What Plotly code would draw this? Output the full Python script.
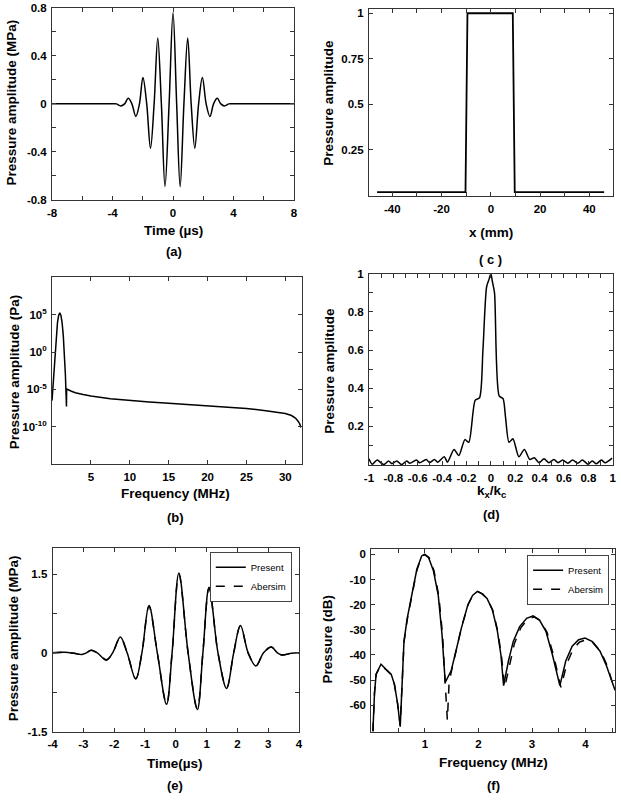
import plotly.graph_objects as go

W, H = 621, 800

# ---------------- data ----------------
# (a) transmitted pulse
t_a = [-8, -6, -4, -3.75, -3.46, -3.2, -2.96, -2.72, -2.46, -2.22, -1.99, -1.74, -1.49, -1.25,
       -1.01, -0.77, -0.53, -0.26, 0.0, 0.24, 0.47, 0.72, 0.97, 1.2, 1.44, 1.69, 1.94, 2.19,
       2.44, 2.68, 2.92, 3.16, 3.4, 3.7, 4, 6, 8]
p_a = [0, 0, 0, 0.0, -0.017, 0, 0.047, 0, -0.105, 0, 0.22, 0, -0.37, 0,
       0.55, 0, -0.69, 0, 0.76, 0, -0.69, 0, 0.55, 0, -0.37, 0, 0.22, 0,
       -0.105, 0, 0.047, 0, -0.017, 0, 0, 0, 0]

# (c) aperture
x_c = [-46.2, -10.3, -9.5, 8.9, 9.7, 46.0]
p_c = [0.015, 0.015, 1.0, 1.0, 0.015, 0.015]

# (b) spectrum, log10 of amplitude (Pa)
f_b = [0.0, 0.1, 0.25, 0.4, 0.55, 0.7, 0.85, 1.0, 1.15, 1.3, 1.45, 1.6, 1.72, 1.82, 1.86, 1.88,
       2.5, 3.0, 4.0, 5, 7.5, 10, 12.5, 15, 17.5, 20, 22.5, 25, 27.5, 29, 30, 30.8, 31.3, 31.6,
       31.85, 32]
log_b = [-6.5, -4.8, -2.3, 0.0, 2.2, 3.9, 4.9, 5.25, 4.9, 3.9, 2.2, -0.2, -3.0, -6.0, -7.3, -4.95,
         -5.25, -5.45, -5.7, -5.9, -6.25, -6.5, -6.7, -6.87, -7.05, -7.2, -7.4, -7.57, -7.85, -8.05,
         -8.23, -8.5, -8.85, -9.2, -9.6, -10.1]

# (d) angular spectrum
k_d = [-1.0, -0.973, -0.933, -0.879, -0.839, -0.812, -0.772, -0.732, -0.691, -0.664, -0.611,
       -0.584, -0.530, -0.503, -0.463, -0.436, -0.382, -0.356, -0.302, -0.262, -0.213, -0.181,
       -0.128, -0.093, -0.065, -0.035, -0.015, 0.0, 0.012, 0.03, 0.068, 0.1, 0.12, 0.149, 0.181,
       0.23, 0.275, 0.32, 0.356, 0.396, 0.436, 0.476, 0.517, 0.552, 0.589, 0.632, 0.67, 0.713,
       0.75, 0.798, 0.831, 0.866, 0.906, 0.938, 0.995]
p_d = [0.031, 0.002, 0.024, 0.0, 0.019, 0.005, 0.019, 0.0, 0.019, 0.007, 0.024,
       0.01, 0.027, 0.01, 0.027, 0.013, 0.041, 0.013, 0.079, 0.048, 0.131, 0.117,
       0.338, 0.35, 0.6, 0.93, 0.97, 1.0, 0.96, 0.9, 0.36, 0.345, 0.25, 0.117, 0.135,
       0.041, 0.079, 0.027, 0.036, 0.01, 0.031, 0.01, 0.027, 0.01, 0.024, 0.007, 0.024, 0.007,
       0.024, 0.002, 0.019, 0.005, 0.024, 0.01, 0.034]

# (e) received pulse (MPa)
t_e = [-4, -3.6, -3.3, -3.05, -2.9, -2.75, -2.55, -2.25, -2.05, -1.8, -1.58, -1.3, -1.1, -0.87,
       -0.6, -0.3, -0.12, 0.1, 0.4, 0.7, 0.88, 1.08, 1.37, 1.65, 1.88, 2.1, 2.35, 2.6, 2.85,
       3.1, 3.3, 3.45, 3.75, 4]
p_e_present = [0.0, 0.01, -0.01, -0.03, 0.0, 0.05, 0.0, -0.14, 0.0, 0.3, 0.0, -0.5, 0.0, 0.9,
               0.0, -0.98, 0.0, 1.52, 0.0, -1.08, 0.0, 1.25, 0.0, -0.68, 0.0, 0.52, 0.0, -0.25,
               0.0, 0.11, 0.0, -0.04, -0.01, 0.0]
p_e_abersim = [0.0, 0.01, -0.01, -0.03, 0.0, 0.05, 0.0, -0.13, 0.0, 0.29, 0.0, -0.49, 0.0, 0.88,
               0.0, -0.97, 0.0, 1.49, 0.0, -1.06, 0.0, 1.23, 0.0, -0.67, 0.0, 0.51, 0.0, -0.25,
               0.0, 0.11, 0.0, -0.04, -0.01, 0.0]

# (f) spectra (dB)
f_present = [0.03, 0.06, 0.09, 0.18, 0.27, 0.37, 0.43, 0.49, 0.54, 0.58, 0.61, 0.67, 0.76, 0.85,
             0.94, 0.99, 1.07, 1.16, 1.25, 1.32, 1.38, 1.43, 1.49, 1.58, 1.68, 1.8, 1.89, 1.98,
             2.07, 2.16, 2.26, 2.35, 2.42, 2.47, 2.56, 2.65, 2.77, 2.9, 3.02, 3.14, 3.26, 3.38,
             3.52, 3.63, 3.75, 3.87, 3.99, 4.12, 4.27, 4.39, 4.51, 4.55]
db_present = [-70.4, -55, -47.6, -43.7, -45.6, -47.6, -51.5, -59.3, -68.5, -50, -34.6, -25.4,
              -16.3, -5.9, -0.6, 0, -1.3, -6.5, -16.3, -31.9, -50.9, -48.9, -46.3, -38.5, -29.4,
              -20.2, -16.3, -14.7, -15.7, -17.5, -22, -30, -40, -52.2, -42.4, -34.6, -28.7, -25.4,
              -24.4, -26.1, -30.6, -39.8, -52.2, -42.4, -36.5, -33.9, -33.3, -34.6, -38.5, -44.3,
              -52, -54]
f_abersim = [0.03, 0.06, 0.09, 0.18, 0.27, 0.37, 0.43, 0.49, 0.54, 0.58, 0.61, 0.67, 0.76, 0.85,
             0.94, 1.0, 1.08, 1.17, 1.26, 1.33, 1.37, 1.42, 1.45, 1.49, 1.58, 1.69, 1.81, 1.9,
             1.99, 2.08, 2.17, 2.27, 2.36, 2.43, 2.49, 2.58, 2.67, 2.79, 2.92, 3.04, 3.16, 3.28,
             3.4, 3.54, 3.65, 3.77, 3.89, 4.01, 4.14, 4.29, 4.41, 4.52, 4.55]
db_abersim = [-70.4, -55, -47.6, -44, -45.8, -47.8, -51.5, -59.3, -68, -50, -35, -26, -16.8,
              -6.3, -0.8, 0, -1.3, -6.5, -16.5, -32, -48, -65.9, -52, -47, -38.5, -28.5, -19.8,
              -16, -14.8, -15.8, -17.8, -22.4, -30.5, -40.5, -52.9, -43.5, -35.5, -29.2, -25.8,
              -24.8, -26.4, -31, -40, -52.9, -43.5, -37.5, -34.8, -34, -35, -38.8, -44.5, -52.5,
              -54]

# tick labels
a_xt = [-8, -4, 0, 4, 8]; a_xl = ["-8", "-4", "0", "4", "8"]
a_yt = [-0.8, -0.4, 0, 0.4, 0.8]; a_yl = ["-0.8", "-0.4", "0", "0.4", "0.8"]
c_xt = [-40, -20, 0, 20, 40]; c_xl = ["-40", "-20", "0", "20", "40"]
c_yt = [0.25, 0.5, 0.75, 1]; c_yl = ["0.25", "0.5", "0.75", "1"]
b_xt = [5, 10, 15, 20, 25, 30]; b_xl = ["5", "10", "15", "20", "25", "30"]
b_yt = [1e-10, 1e-5, 1, 1e5]; b_yl = ["10<sup>-10</sup>", "10<sup>-5</sup>", "10<sup>0</sup>", "10<sup>5</sup>"]
d_xt = [-1, -0.8, -0.6, -0.4, -0.2, 0, 0.2, 0.4, 0.6, 0.8, 1]
d_xl = ["-1", "-0.8", "-0.6", "-0.4", "-0.2", "0", "0.2", "0.4", "0.6", "0.8", "1"]
d_yt = [0.2, 0.4, 0.6, 0.8, 1]; d_yl = ["0.2", "0.4", "0.6", "0.8", "1"]
e_xt = [-4, -3, -2, -1, 0, 1, 2, 3, 4]; e_xl = ["-4", "-3", "-2", "-1", "0", "1", "2", "3", "4"]
e_yt = [-1.5, 0, 1.5]; e_yl = ["-1.5", "0", "1.5"]
f_xt = [1, 2, 3, 4]; f_xl = ["1", "2", "3", "4"]
f_yt = [0, -10, -20, -30, -40, -50, -60]; f_yl = ["0", "-10", "-20", "-30", "-40", "-50", "-60"]

# ---------------- figure ----------------
FONT = "Liberation Sans"
TICKF = dict(family=FONT, size=11.5, color="black", weight="bold")
LINE = dict(color="black", width=1.5)
FRAME = "#333"


def dom_x(x0, x1):
    return [x0 / W, x1 / W]


def dom_y(y0, y1):  # pixel top, bottom
    return [1 - y1 / H, 1 - y0 / H]


fig = go.Figure()
fig.add_trace(go.Scatter(x=t_a, y=p_a, mode="lines", line=dict(shape="spline", smoothing=1, **LINE),
                         xaxis="x", yaxis="y", showlegend=False))
fig.add_trace(go.Scatter(x=x_c, y=p_c, mode="lines", line=dict(color="black", width=1.8),
                         xaxis="x2", yaxis="y2", showlegend=False))
fig.add_trace(go.Scatter(x=f_b, y=[10 ** v for v in log_b], mode="lines", line=LINE,
                         xaxis="x3", yaxis="y3", showlegend=False))
fig.add_trace(go.Scatter(x=k_d, y=p_d, mode="lines", line=dict(shape="spline", smoothing=0.7, **LINE),
                         xaxis="x4", yaxis="y4", showlegend=False))
fig.add_trace(go.Scatter(x=t_e, y=p_e_present, mode="lines", name="Present",
                         line=dict(shape="spline", smoothing=1, **LINE), xaxis="x5", yaxis="y5",
                         legend="legend"))
fig.add_trace(go.Scatter(x=t_e, y=p_e_abersim, mode="lines", name="Abersim",
                         line=dict(shape="spline", smoothing=1, dash="dash", color="black", width=1.5),
                         xaxis="x5", yaxis="y5", legend="legend"))
fig.add_trace(go.Scatter(x=f_present, y=db_present, mode="lines", name="Present", line=LINE,
                         xaxis="x6", yaxis="y6", legend="legend2"))
fig.add_trace(go.Scatter(x=f_abersim, y=db_abersim, mode="lines", name="Abersim",
                         line=dict(dash="dash", color="black", width=1.5),
                         xaxis="x6", yaxis="y6", legend="legend2"))


def ax(domain, rng, tv, tt, anchor, minor=None, typ="linear"):
    d = dict(domain=domain, range=rng, tickvals=tv, ticktext=tt, anchor=anchor, type=typ,
             ticks="inside", ticklen=4, tickcolor=FRAME, tickwidth=1, showline=True,
             linecolor=FRAME, linewidth=1, mirror="ticks", showgrid=False, zeroline=False,
             tickfont=TICKF, ticklabelstandoff=2)
    if minor is not None:
        d["minor"] = dict(dtick=minor, ticks="inside", ticklen=4, tickcolor=FRAME, showgrid=False)
    return d


LEGF = dict(family=FONT, size=9.5, color="black")
fig.update_layout(
    width=W, height=H, margin=dict(l=0, r=0, t=0, b=0),
    paper_bgcolor="white", plot_bgcolor="white",
    xaxis=ax(dom_x(47.7, 293.3), [-8, 8], a_xt, a_xl, "y", 2),
    yaxis=ax(dom_y(2, 196.7), [-0.8, 0.8], a_yt, a_yl, "x", 0.2),
    xaxis2=ax(dom_x(369.3, 616.7), [-49.5, 49.5], c_xt, c_xl, "y2", 10),
    yaxis2=ax(dom_y(3.3, 193.3), [-0.008, 1.022], c_yt, c_yl, "x2"),
    xaxis3=ax(dom_x(47.7, 301), [0, 32.1], b_xt, b_xl, "y3"),
    yaxis3=ax(dom_y(275, 465), [-15, 10.07], b_yt, b_yl, "x3", typ="log"),
    xaxis4=ax(dom_x(369.3, 616.7), [-1, 1], d_xt, d_xl, "y4", 0.1),
    yaxis4=ax(dom_y(271.7, 466), [-0.002, 1.0], d_yt, d_yl, "x4", 0.1),
    xaxis5=ax(dom_x(48.3, 298.3), [-4, 4], e_xt, e_xl, "y5"),
    yaxis5=ax(dom_y(550, 736.7), [-1.5, 2.0], e_yt, e_yl, "x5", 0.75),
    xaxis6=ax(dom_x(371.7, 619), [0, 4.55], f_xt, f_xl, "y6", 0.5),
    yaxis6=ax(dom_y(551.7, 736.7), [-70.5, 2], f_yt, f_yl, "x6"),
    legend=dict(x=291 / W, y=1 - 554 / H, xanchor="right", yanchor="top", bgcolor="white",
                bordercolor="#444", borderwidth=1, font=LEGF, itemwidth=30, tracegroupgap=0),
    legend2=dict(x=613 / W, y=1 - 557 / H, xanchor="right", yanchor="top", bgcolor="white",
                 bordercolor="#444", borderwidth=1, font=LEGF, itemwidth=30, tracegroupgap=0),
)

TITLEF = dict(family=FONT, size=13.5, color="black", weight="bold")
PANELF = dict(family=FONT, size=13, color="black", weight="bold")
texts = [
    ("Time (\u00b5s)", 171, 228, 0, TITLEF), ("(a)", 171, 249, 0, PANELF),
    ("x (mm)", 493, 230, 0, TITLEF), ("( c )", 493, 257, 0, PANELF),
    ("Frequency (MHz)", 173, 495, 0, TITLEF), ("(b)", 173, 519, 0, PANELF),
    ("k<sub>x</sub>/k<sub>c</sub>", 494, 493, 0, TITLEF), ("(d)", 494, 516, 0, PANELF),
    ("Time(\u00b5s)", 172, 769, 0, TITLEF), ("(e)", 172, 791, 0, PANELF),
    ("Frequency (MHz)", 496, 768, 0, TITLEF), ("(f)", 496, 791, 0, PANELF),
    ("Pressure amplitude (MPa)", 7, 98, -90, TITLEF),
    ("Pressure amplitude", 328, 98, -90, TITLEF),
    ("Pressure amplitude (Pa)", 10, 371, -90, TITLEF),
    ("Pressure amplitude", 329, 370, -90, TITLEF),
    ("Pressure amplitude (MPa)", 9, 642, -90, TITLEF),
    ("Pressure (dB)", 327, 643, -90, TITLEF),
]
for txt, px, py, ang, fnt in texts:
    fig.add_annotation(text=txt, x=px / W, y=1 - py / H, xref="paper", yref="paper",
                       xanchor="center", yanchor="middle", showarrow=False, textangle=ang, font=fnt)

fig.write_html("out.html", config={"displayModeBar": False},
               post_script="document.body.style.margin='0px';document.body.style.overflow='hidden';")
